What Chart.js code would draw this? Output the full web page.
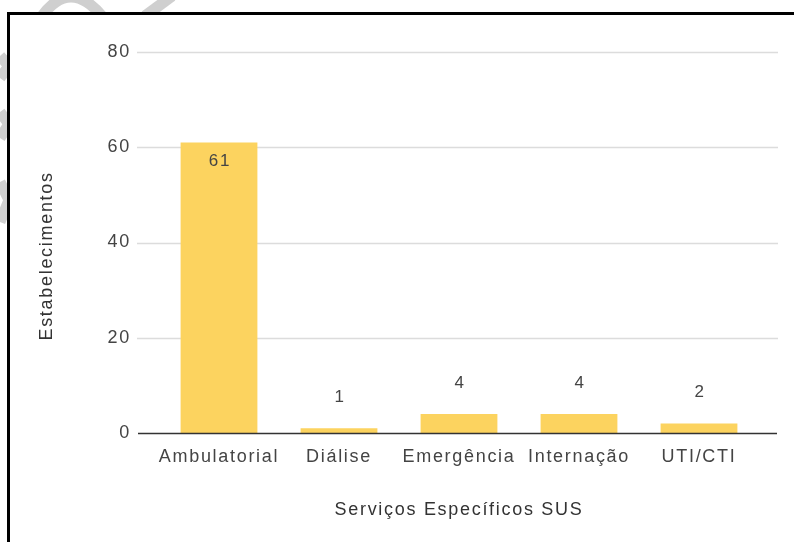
<!DOCTYPE html>
<html>
<head>
<meta charset="utf-8">
<script src="https://cdn.jsdelivr.net/npm/chart.js@4.4.1/dist/chart.umd.min.js"></script>
<style>
    html, body { margin: 0; padding: 0; background: #fff; }
    #wrap { position: relative; width: 794px; height: 542px; overflow: hidden; }
    #mark { position: absolute; left: 0; top: 0; }
    #frame {
        position: absolute; left: 7px; top: 12px; right: 0; bottom: 0;
        border-left: 3px solid #000; border-top: 3px solid #000; background: #fff;
    }
    #chart { position: absolute; left: 0; top: 0; }
</style>
</head>
<body>
<div id="wrap">
    <!-- faint watermark strokes outside the frame -->
    <svg id="mark" width="794" height="542">
        <g fill="none" stroke="#cfcfcf" stroke-width="11">
            <path d="M 42 16 Q 70 -22 102 16" />
            <path d="M 172 -4 L 145 16" />
            <path d="M 0 56 L 9 66 L 0 78" />
            <path d="M 0 112 L 9 124 L 0 138" />
            <path d="M 0 182 L 9 200 L 0 222" />
        </g>
    </svg>
    <div id="frame"></div>
    <canvas id="chart" width="794" height="542"></canvas>
</div>

<script>
    // Data
    const categories = ["Ambulatorial", "Diálise", "Emergência", "Internação", "UTI/CTI"];
    const establishments = [61, 1, 4, 4, 2];
    const yTicks = [0, 20, 40, 60, 80];

    const barColor = "#fcd35f";
    const textColor = "#444444";
    const spacing = "1.7px";

    Chart.defaults.font.family = "'Liberation Sans', Arial, sans-serif";
    Chart.defaults.font.size = 18;
    Chart.defaults.color = textColor;

    // Text in the reference is drawn a bit wide
    const spacingPlugin = {
        id: "spacing",
        beforeUpdate(chart) { chart.ctx.letterSpacing = spacing; },
        beforeDraw(chart) { chart.ctx.letterSpacing = spacing; },
    };

    // Light gridlines and dark baseline, a little wider than the plot
    const gridPlugin = {
        id: "gridLines",
        beforeDatasetsDraw(chart) {
            const { ctx, chartArea, scales: { y } } = chart;
            ctx.save();
            ctx.strokeStyle = "#dcdcdc";
            ctx.lineWidth = 1.6;
            y.ticks.forEach((t) => {
                if (t.value === 0) return;
                const py = Math.round(y.getPixelForValue(t.value)) + 0.5;
                ctx.beginPath();
                ctx.moveTo(chartArea.left - 22, py);
                ctx.lineTo(chartArea.right + 19, py);
                ctx.stroke();
            });
            ctx.restore();
        },
        afterDatasetsDraw(chart) {
            const { ctx, chartArea, scales: { y } } = chart;
            const py = Math.round(y.getPixelForValue(0)) + 0.5;
            ctx.save();
            ctx.strokeStyle = "#333333";
            ctx.lineWidth = 1.5;
            ctx.beginPath();
            ctx.moveTo(chartArea.left - 21, py);
            ctx.lineTo(chartArea.right + 18, py);
            ctx.stroke();
            ctx.restore();
        },
    };

    // Value labels: inside the top of tall bars, above short ones
    const valueLabels = {
        id: "valueLabels",
        afterDatasetsDraw(chart) {
            const { ctx } = chart;
            const meta = chart.getDatasetMeta(0);
            ctx.save();
            ctx.letterSpacing = spacing;
            ctx.font = "17px 'Liberation Sans', Arial, sans-serif";
            ctx.fillStyle = textColor;
            ctx.textAlign = "center";
            ctx.textBaseline = "middle";
            meta.data.forEach((bar, i) => {
                const v = establishments[i];
                const inside = v > 40;
                const py = inside ? bar.y + 19 : bar.y - 31;
                ctx.fillText(String(v), bar.x + 1, py);
            });
            ctx.restore();
        },
    };

    new Chart(document.getElementById("chart"), {
        type: "bar",
        data: {
            labels: categories,
            datasets: [{
                label: "Estabelecimentos",
                data: establishments,
                backgroundColor: barColor,
                borderWidth: 0,
                categoryPercentage: 1,
                barPercentage: 0.64,
            }],
        },
        options: {
            responsive: false,
            animation: false,
            layout: { padding: { left: 0, right: 35, top: 52, bottom: 0 } },
            plugins: {
                legend: { display: false },
                tooltip: { enabled: false },
            },
            scales: {
                x: {
                    grid: { display: false, drawTicks: false },
                    border: { display: false },
                    ticks: {
                        padding: 13,
                        color: textColor,
                        autoSkip: false,
                        maxRotation: 0,
                        minRotation: 0,
                    },
                    title: {
                        display: true,
                        text: "Serviços Específicos SUS",
                        color: "#333333",
                        padding: { top: 0, bottom: 21 },
                    },
                    afterFit(scale) { scale.height = 109; },
                },
                y: {
                    min: 0,
                    max: 80,
                    afterBuildTicks(scale) {
                        scale.ticks = yTicks.map((v) => ({ value: v }));
                    },
                    grid: { display: false, drawTicks: false },
                    border: { display: false },
                    ticks: { padding: 28, color: textColor },
                    title: {
                        display: true,
                        // trailing spaces nudge the rotated title down to match
                        text: "Estabelecimentos\u00a0\u00a0\u00a0\u00a0",
                        color: "#333333",
                        padding: { top: 36, bottom: 0 },
                    },
                    afterFit(scale) { scale.width = 159; },
                },
            },
        },
        plugins: [spacingPlugin, gridPlugin, valueLabels],
    });
</script>
</body>
</html>
